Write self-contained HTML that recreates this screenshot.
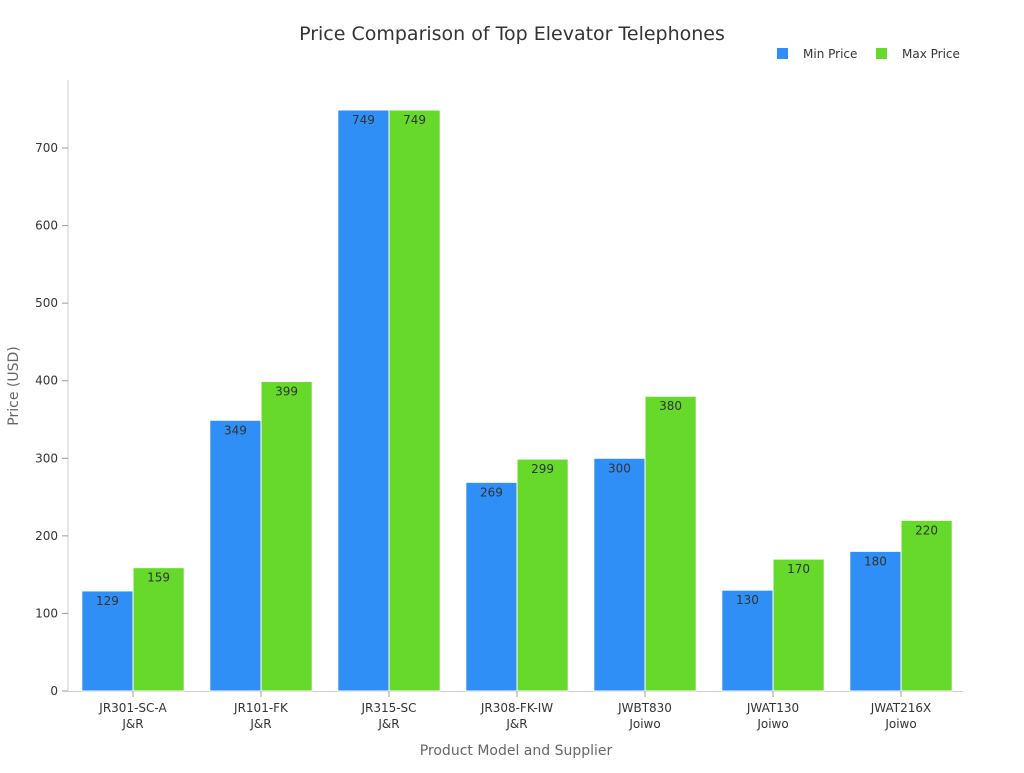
<!DOCTYPE html>
<html><head><meta charset="utf-8"><style>
body{margin:0;background:#fff;font-family:"Liberation Sans","DejaVu Sans",sans-serif}
svg text{font-family:"DejaVu Sans","Liberation Sans",sans-serif}
</style></head><body>
<svg id="chart" width="1024" height="768" viewBox="0 0 1024 768">
<text x="512" y="40" text-anchor="middle" font-size="19" fill="#333">Price Comparison of Top Elevator Telephones</text>
<g>
<rect x="777" y="48" width="11" height="11" fill="#2f8ff7"/>
<text x="803" y="58" font-size="12" fill="#333">Min Price</text>
<rect x="876" y="48" width="11" height="11" fill="#66d92a"/>
<text x="902" y="58" font-size="12" fill="#333">Max Price</text>
</g>
<text transform="translate(18,386) rotate(-90)" text-anchor="middle" font-size="14" fill="#666">Price (USD)</text>
<text x="516" y="755" text-anchor="middle" font-size="14" fill="#666">Product Model and Supplier</text>
<g id="plot"></g>
</svg>
<script>
const models=["JR301-SC-A","JR101-FK","JR315-SC","JR308-FK-IW","JWBT830","JWAT130","JWAT216X"];
const suppliers=["J&R","J&R","J&R","J&R","Joiwo","Joiwo","Joiwo"];
const minPrice=[129,349,749,269,300,130,180];
const maxPrice=[159,399,749,299,380,170,220];
const yTicks=[0,100,200,300,400,500,600,700];
const NS="http://www.w3.org/2000/svg";
const g=document.getElementById('plot');
const x0=69,band=128,y0=691,per=(691-148)/700;
const y=v=>y0-v*per;
function mk(t,a){const e=document.createElementNS(NS,t);for(const k in a)e.setAttribute(k,a[k]);g.appendChild(e);return e;}
let ax=mk('line',{x1:68,y1:80,x2:68,y2:691,stroke:'#ccc'});


let bx=mk('line',{x1:68,y1:691.5,x2:963,y2:691.5,stroke:'#ccc'});


yTicks.forEach(v=>{
 const tk=mk('line',{x1:62,x2:68,y1:y(v),y2:y(v),stroke:'#999'});
 
 
 const t=mk('text',{x:58,y:y(v)+4,'text-anchor':'end','font-size':12,fill:'#333'});
 t.textContent=v;
 
 
});
const bw=band*0.4;
models.forEach((m,i)=>{
 const cx=x0+band*i+band/2;
 [[minPrice[i],'#2f8ff7',cx-bw,'bar-min'],[maxPrice[i],'#66d92a',cx,'bar-max']].forEach(([v,c,bxp,nm])=>{
  const r=mk('rect',{x:bxp,y:y(v),width:bw,height:y0-y(v),fill:c,stroke:'#fff','stroke-width':1});
  
  
  const t=mk('text',{x:bxp+bw/2,y:y(v)+14,'text-anchor':'middle','font-size':12,fill:'#333'});
  t.textContent=v;
  
  
 });
 const tk=mk('line',{x1:cx,x2:cx,y1:691,y2:697,stroke:'#999'});
 
 
 const t1=mk('text',{x:cx,y:712,'text-anchor':'middle','font-size':12,fill:'#333'});
 t1.textContent=m;
 
 
 const t2=mk('text',{x:cx,y:728,'text-anchor':'middle','font-size':12,fill:'#333'});
 t2.textContent=suppliers[i];
 
 
});
</script>
</body></html>
